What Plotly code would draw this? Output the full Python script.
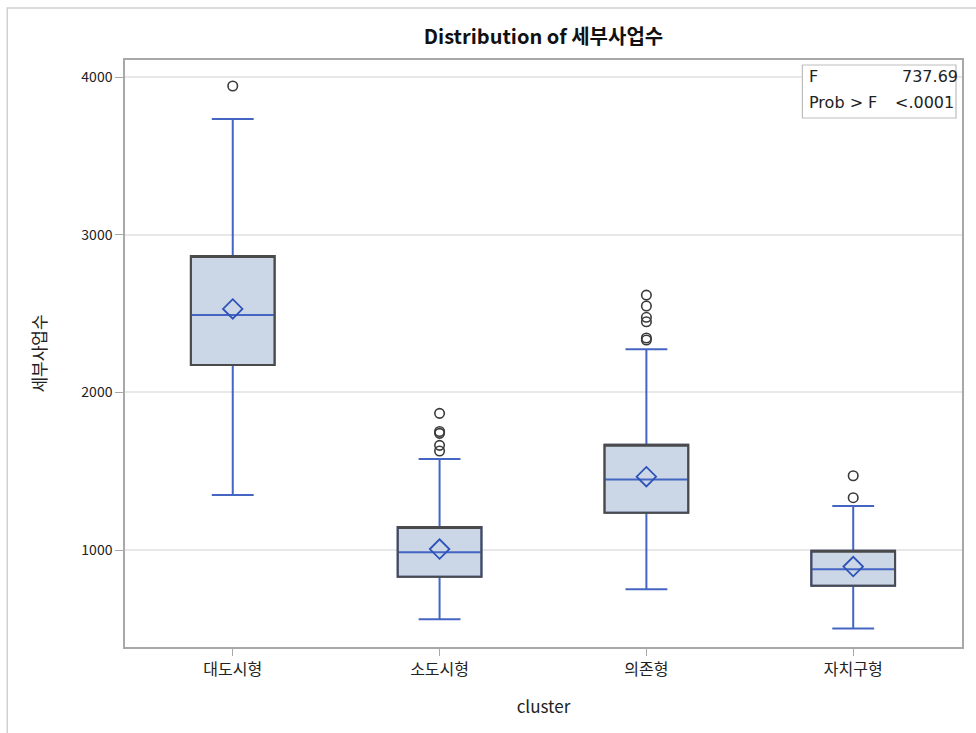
import plotly.graph_objects as go

categories = ["대도시형", "소도시형", "의존형", "자치구형"]
q1 = [2173, 831, 1237, 774]
median = [2491, 986, 1448, 878]
q3 = [2865, 1146, 1668, 996]
lower_whisker = [1349, 561, 751, 503]
upper_whisker = [3734, 1577, 2273, 1279]
means = [2529, 1006, 1465, 895]

outlier_cluster = ["대도시형",
                   "소도시형", "소도시형", "소도시형", "소도시형", "소도시형",
                   "의존형", "의존형", "의존형", "의존형", "의존형", "의존형",
                   "자치구형", "자치구형"]
outlier_values = [3943,
                  1867, 1752, 1740, 1664, 1628,
                  2617, 2548, 2476, 2448, 2345, 2332,
                  1471, 1332]

font_kr = "Noto Sans CJK KR"
font_lat = "DejaVu Sans, Noto Sans CJK KR"
blue = "#4466c2"

fig = go.Figure()
fig.add_trace(go.Box(
    x=categories, q1=q1, median=median, q3=q3,
    lowerfence=lower_whisker, upperfence=upper_whisker,
    width=0.405,
    fillcolor="#cbd6e6", line=dict(color=blue, width=2),
    whiskerwidth=0.5, boxpoints=False, showlegend=False, hoverinfo="skip"))
fig.add_trace(go.Box(
    x=categories, q1=q1, median=q3, q3=q3,
    lowerfence=q1, upperfence=q3,
    width=0.405,
    fillcolor="rgba(0,0,0,0)", line=dict(color="#4a4a4a", width=2),
    whiskerwidth=0, boxpoints=False, showlegend=False, hoverinfo="skip"))
fig.add_trace(go.Scatter(
    x=categories, y=means, mode="markers",
    marker=dict(symbol="diamond-open", size=15, color="#2c52b8", line=dict(width=1.8, color="#2c52b8")),
    showlegend=False))
fig.add_trace(go.Scatter(
    x=outlier_cluster, y=outlier_values, mode="markers",
    marker=dict(symbol="circle-open", size=9.5, color="#3a3a3a", line=dict(width=1.6, color="#3a3a3a")),
    showlegend=False))

fig.update_layout(
    width=976, height=733,
    margin=dict(l=125, r=12, t=60, b=86),
    paper_bgcolor="white", plot_bgcolor="white",
    boxmode="overlay",
    font=dict(family=font_kr, color="#222222"),
    title=dict(text="<b>Distribution of 세부사업수</b>", x=0.5, xanchor="center",
               xref="paper", y=1 - 37/733, yanchor="middle",
               font=dict(size=20, family=font_kr, color="#111111")),
    xaxis=dict(title=dict(text="cluster", font=dict(size=17), standoff=22),
               tickfont=dict(size=16), showline=True, linecolor="#a8a8a8", linewidth=1.5,
               mirror=True, ticks="outside", ticklen=7, tickcolor="#a8a8a8",
               showgrid=False, categoryorder="array", categoryarray=categories,
               range=[-0.521, 3.526]),
    yaxis=dict(title=dict(text="세부사업수", font=dict(size=17), standoff=30),
               tickfont=dict(size=14), range=[385, 4108],
               tickvals=[1000, 2000, 3000, 4000],
               showline=True, linecolor="#a8a8a8", linewidth=1.5, mirror=True,
               ticks="outside", ticklen=8, tickcolor="#a8a8a8",
               showgrid=True, gridcolor="#e8e8e8", gridwidth=1.5, zeroline=False),
    shapes=[
        dict(type="rect", xref="paper", yref="paper",
             x0=(7-125)/839, x1=1.2, y0=-0.3, y1=1 + (60-8)/587,
             line=dict(color="#cfcfcf", width=1.5), fillcolor="rgba(0,0,0,0)", layer="below"),
        dict(type="rect", xref="paper", yref="paper",
             x0=(804-125)/839, x1=(958-125)/839, y0=1-(118-60)/587, y1=1-(65-60)/587,
             line=dict(color="#bdbdbd", width=1.2), fillcolor="white", layer="above"),
    ],
    annotations=[
        dict(text="F", xref="paper", yref="paper", x=(809-125)/839, y=1-(76-60)/587,
             xanchor="left", yanchor="middle", showarrow=False, font=dict(size=16, family=font_lat)),
        dict(text="737.69", xref="paper", yref="paper", x=(962-125)/839, y=1-(76-60)/587,
             xanchor="right", yanchor="middle", showarrow=False, font=dict(size=16, family=font_lat)),
        dict(text="Prob > F", xref="paper", yref="paper", x=(809-125)/839, y=1-(102-60)/587,
             xanchor="left", yanchor="middle", showarrow=False, font=dict(size=16, family=font_lat)),
        dict(text="<.0001", xref="paper", yref="paper", x=(958-125)/839, y=1-(102-60)/587,
             xanchor="right", yanchor="middle", showarrow=False, font=dict(size=16, family=font_lat)),
    ],
)

fig.write_html("out.html")
